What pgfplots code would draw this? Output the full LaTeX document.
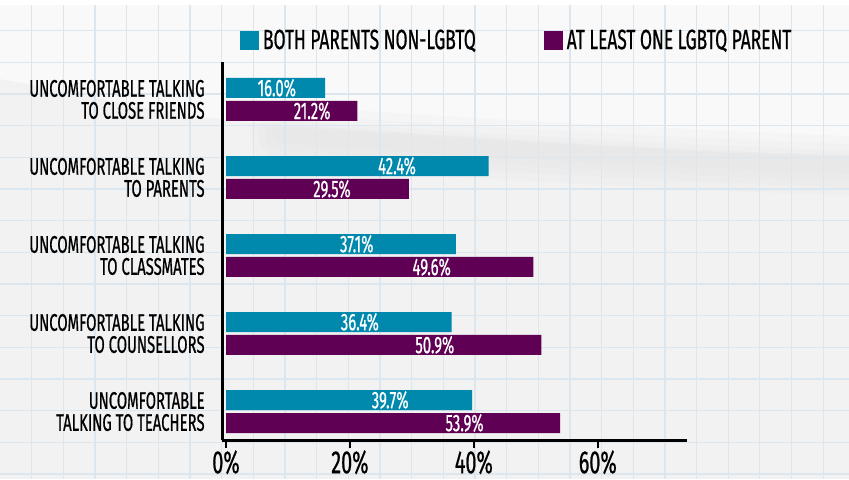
\documentclass[border=0pt]{standalone}
\usepackage{pgfplots}
\pgfplotsset{compat=1.18}
\usepackage{fontspec}
\setmainfont{Fira Sans}[FakeStretch=0.62, FakeBold=0.6]
\definecolor{cyanbar}{RGB}{0,137,173}
\definecolor{purplebar}{RGB}{96,0,84}
\definecolor{gridblue}{RGB}{220,230,238}
\definecolor{paper}{RGB}{242,242,242}
\definecolor{shadow}{RGB}{215,215,215}
\begin{document}
\begin{tikzpicture}
\useasboundingbox (0,0) rectangle (424.5pt,239.5pt);
% paper background with a soft fold
\fill[paper] (0,0) rectangle (424.5pt,239.5pt);
\fill[white, opacity=0.55] (0,239.5pt) -- (424.5pt,239.5pt) -- (424.5pt,162pt)
    .. controls (330pt,164pt) and (220pt,172pt) .. (130pt,178pt) .. controls (80pt,182pt) and (30pt,195pt) .. (0,200pt) -- cycle;
\foreach \w in {30,22,15,8}
  \draw[shadow, line width=\w pt, opacity=0.09, line cap=round]
    (140pt,172pt) .. controls (220pt,166pt) and (330pt,160pt) .. (440pt,156pt);
\foreach \i in {0,...,26} \draw[gridblue, line width=0.6pt] ({15.85pt+\i*15.83pt},0) -- ++(0,239.5pt);
\foreach \j in {0,...,15} \draw[gridblue, line width=0.6pt] (0,{224.15pt-\j*15.83pt}) -- ++(424.5pt,0);
\fill[white] (0,237pt) rectangle (424.5pt,239.5pt);

\begin{axis}[
    at={(111pt,19.5pt)}, anchor=south west,
    scale only axis,
    width=232.5pt, height=189pt,
    xmin=-0.65, xmax=74.4,
    ymin=-0.365, ymax=4.48,
    axis x line*=bottom, axis y line*=left,
    axis line style={line width=1.5pt, black},
    xtick={0,20,40,60},
    xticklabels={0\%,20\%,40\%,60\%},
    xtick style={line width=1.2pt, black},
    tick align=outside,
    major tick length=4pt,
    xticklabel style={font=\fontsize{16}{18}\selectfont, inner sep=0pt, yshift=-1pt},
    ytick={0,1,2,3,4},
    yticklabels={{UNCOMFORTABLE\\TALKING TO TEACHERS},{UNCOMFORTABLE TALKING\\TO COUNSELLORS},{UNCOMFORTABLE TALKING\\TO CLASSMATES},{UNCOMFORTABLE TALKING\\TO PARENTS},{UNCOMFORTABLE TALKING\\TO CLOSE FRIENDS}},
    ytick style={draw=none},
    yticklabel style={align=right, font=\fontsize{12}{11}\selectfont, inner sep=0pt, xshift=-4.5pt},
    legend columns=2,
    legend style={at={(axis description cs:0.025,1.056)}, anchor=west, draw=none, fill=none,
        font=\fontsize{14}{15}\selectfont,
        /tikz/every even column/.append style={column sep=32pt}},
    legend image code/.code={\fill[#1] (0pt,-4.75pt) rectangle (9.5pt,4.75pt);},
]
\addplot[xbar, bar shift=0pt, bar width=10pt, fill=cyanbar, draw=none]
    coordinates {(16.0,4.147) (42.4,3.147) (37.1,2.147) (36.4,1.147) (39.7,0.147)};
\addplot[xbar, bar shift=0pt, bar width=10pt, fill=purplebar, draw=none]
    coordinates {(21.2,3.853) (29.5,2.853) (49.6,1.853) (50.9,0.853) (53.9,-0.147)};
\addplot[forget plot, only marks, mark=none, nodes near coords, point meta=explicit symbolic,
    every node near coord/.append style={anchor=center, white, font=\fontsize{12}{12}\selectfont, inner sep=0pt}]
    coordinates {(8.2,4.147) [16.0\%] (27.6,3.147) [42.4\%] (21.1,2.147) [37.1\%] (21.6,1.147) [36.4\%] (26.5,0.147) [39.7\%]
                 (13.9,3.853) [21.2\%] (17.1,2.853) [29.5\%] (33.2,1.853) [49.6\%] (33.7,0.853) [50.9\%] (38.5,-0.147) [53.9\%]};
\legend{BOTH PARENTS NON-LGBTQ, AT LEAST ONE LGBTQ PARENT}
\end{axis}
\end{tikzpicture}
\end{document}
